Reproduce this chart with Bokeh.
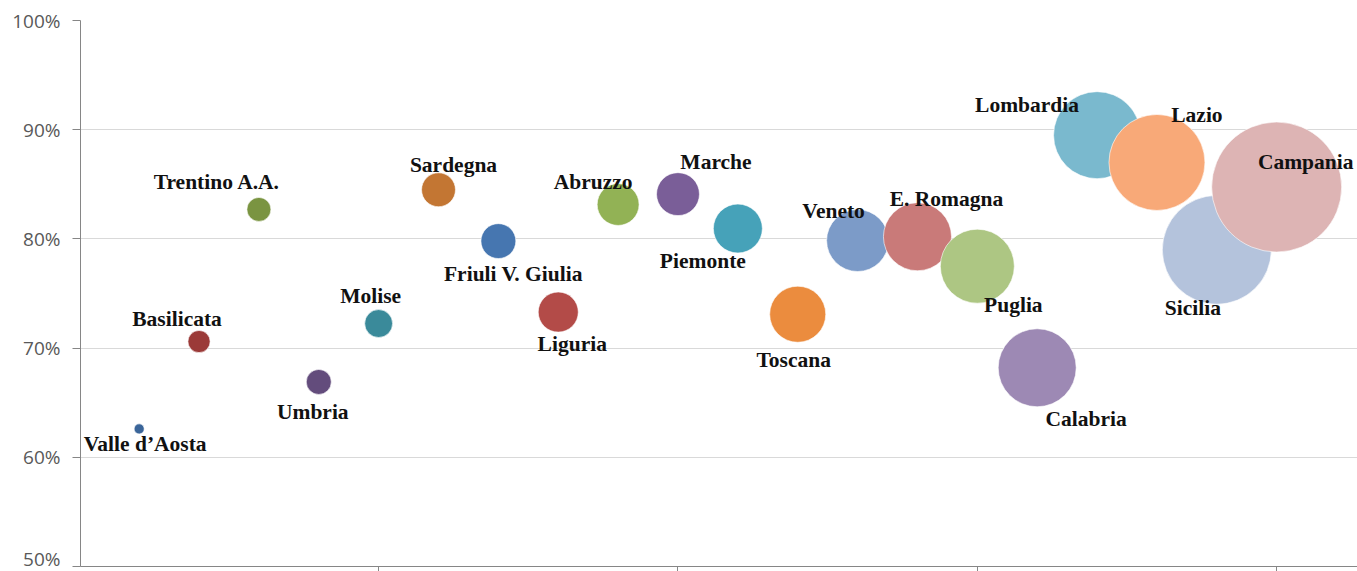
from bokeh.plotting import figure
from bokeh.models import ColumnDataSource, FixedTicker, NumeralTickFormatter, Range1d, CustomJSTickFormatter
from bokeh.core.properties import value
from bokeh.embed import file_html
from bokeh.resources import INLINE
import math

# ---- data ----
regions = ["Valle d’Aosta", "Basilicata", "Trentino A.A.", "Umbria", "Molise",
           "Sardegna", "Friuli V. Giulia", "Liguria", "Abruzzo", "Marche",
           "Piemonte", "Toscana", "Veneto", "E. Romagna", "Puglia",
           "Calabria", "Lombardia", "Lazio", "Sicilia", "Campania"]
rank = list(range(1, 21))
share = [0.626, 0.706, 0.827, 0.669, 0.7225,
         0.845, 0.798, 0.733, 0.8315, 0.841,
         0.8095, 0.731, 0.7985, 0.802, 0.775,
         0.682, 0.895, 0.870, 0.790, 0.8475]
weight = [0.6, 2.9, 3.4, 3.7, 4.6,
          6.8, 7.2, 9.5, 10.4, 10.9,
          14.2, 18.6, 22.7, 27.4, 32.4,
          36.0, 44.8, 54.5, 70.3, 100.0]
y_ticks = [0.5, 0.6, 0.7, 0.8, 0.9, 1.0]
x_ticks = [5, 10, 15, 20]

# ---- styles / layout ----
colors = ["#3A6599", "#9B3A38", "#7A9441", "#634C7C", "#3A8A9A",
          "#C37633", "#4676B0", "#B34B48", "#92B255", "#7A5E98",
          "#46A2B9", "#EB8C3E", "#7C9BC8", "#C97A79", "#ADC683",
          "#9D89B4", "#7AB9CE", "#F8A978", "#B4C3DC", "#DDB4B4"]
label_dx = [6, -22, -42, -6, -8, 15, 15, 14, -25, 38,
            -35, -4, -24, 29, 36, 49, -70, 40, -24, 29]
label_dy = [15, -23, -27, 30, -28, -25, 33, 32, -23, -32,
            32, 46, -30, -38, 39, 51, -30, -47, 58, -25]
max_diam = 130.0
diam = [max_diam * math.sqrt(w / max(weight)) for w in weight]

src = ColumnDataSource(dict(x=rank, y=share, name=regions, color=colors,
                            size=diam, dx=label_dx, dy=label_dy))

p = figure(width=1357, height=571, output_backend="svg", toolbar_location=None,
           x_range=Range1d(0.02, 21.35), y_range=Range1d(0.5, 1.0),
           min_border_left=80, min_border_right=0, min_border_top=20, min_border_bottom=0)
p.outline_line_color = None
p.background_fill_color = "white"
p.border_fill_color = "white"

p.scatter("x", "y", size="size", source=src, fill_color="color", fill_alpha=1.0,
          line_color="white", line_width=1, line_alpha=0.6)

p.text("x", "y", text="name", source=src, x_offset="dx", y_offset="dy",
       text_align="center", text_baseline="middle",
       text_font=value("Liberation Serif"), text_font_style="bold",
       text_font_size="21.5px", text_color="#111111")

p.xgrid.grid_line_color = None
p.ygrid.grid_line_color = "#D9D9D9"
p.ygrid.grid_line_width = 1

p.yaxis.ticker = FixedTicker(ticks=y_ticks)
p.yaxis.formatter = NumeralTickFormatter(format="0%")
p.yaxis.major_label_text_font = "Open Sans"
p.yaxis.major_label_text_font_size = "19px"
p.yaxis.major_label_text_color = "#595959"
p.yaxis.major_tick_in = 0
p.yaxis.major_tick_out = 8
p.yaxis.major_label_standoff = 12
p.yaxis.minor_tick_line_color = None
p.yaxis.axis_line_color = "#868686"
p.yaxis.major_tick_line_color = "#868686"

p.xaxis.ticker = FixedTicker(ticks=x_ticks)
p.xaxis.formatter = CustomJSTickFormatter(code="return '';")
p.xaxis.major_label_standoff = 0
p.xaxis.major_tick_in = 0
p.xaxis.major_tick_out = 5
p.xaxis.minor_tick_line_color = None
p.xaxis.axis_line_color = "#868686"
p.xaxis.major_tick_line_color = "#868686"

open("out.html", "w").write(file_html(p, INLINE))
